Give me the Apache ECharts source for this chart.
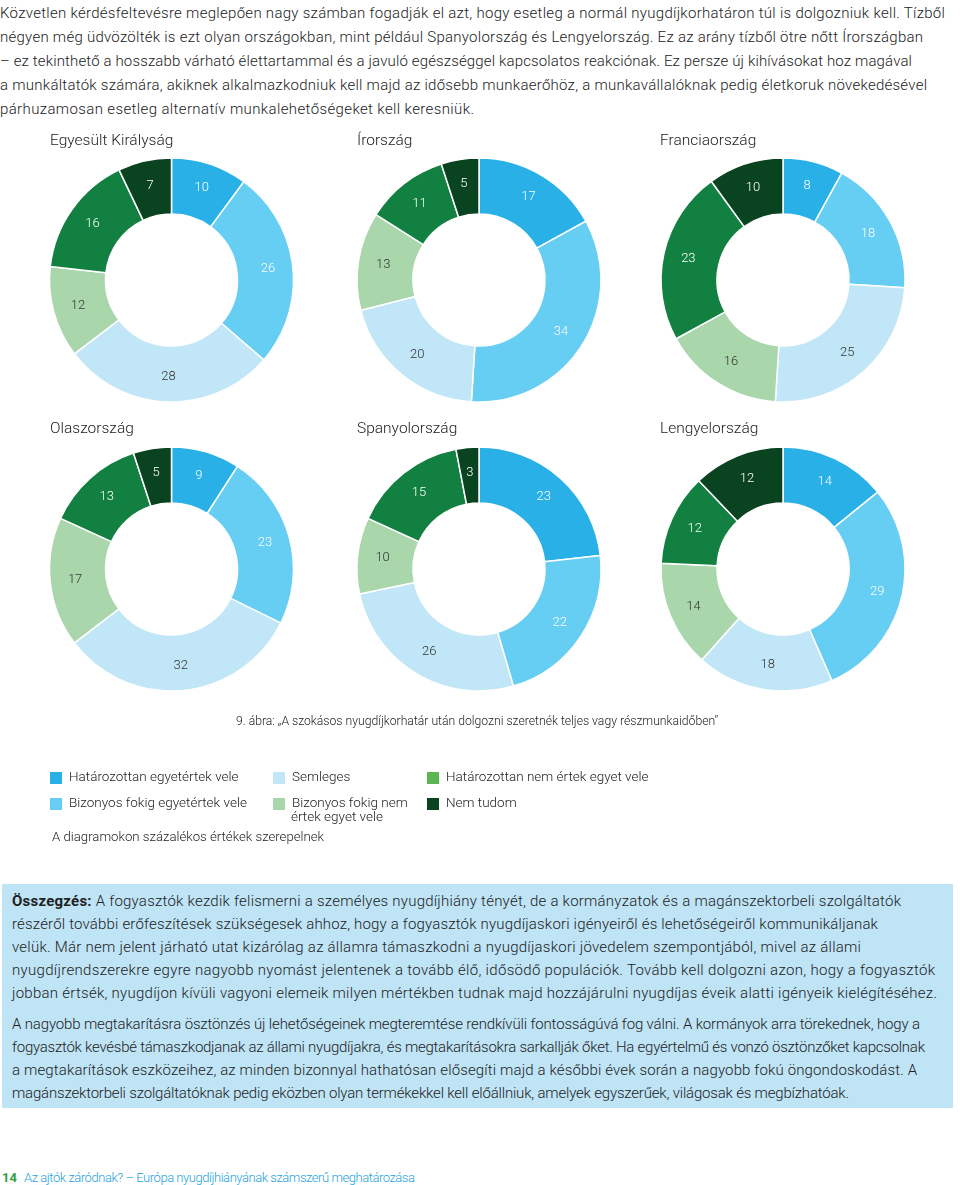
<!DOCTYPE html>
<html lang="hu">
<head>
<meta charset="utf-8">
<script src="https://cdn.jsdelivr.net/npm/echarts@6/dist/echarts.min.js"></script>
<style>
  html,body{margin:0;padding:0;background:#fff;}
  body{width:960px;height:1185px;position:relative;overflow:hidden;font-family:Roboto,"Open Sans",sans-serif;font-weight:300;color:#222;}
  .txt div{white-space:nowrap;}
  #intro{position:absolute;left:0;top:1px;font-size:15px;line-height:24px;}
  #chart{position:absolute;left:0;top:120px;width:960px;height:740px;}
  #summary{position:absolute;left:2px;top:884px;width:951px;height:224px;background:#bfe4f6;}
  #summary .p{position:absolute;left:10px;font-size:15px;line-height:23px;}
  #footer{position:absolute;left:2px;top:1169px;font-size:13px;line-height:18px;white-space:nowrap;color:#1fa3dc;}
  #footer b{color:#2e9e3e;font-weight:700;}
  #footer span{position:absolute;left:22px;top:0;white-space:nowrap;}
</style>
</head>
<body>
<div id="intro" class="txt">
<div data-w="945">Közvetlen kérdésfeltevésre meglepően nagy számban fogadják el azt, hogy esetleg a normál nyugdíjkorhatáron túl is dolgozniuk kell. Tízből</div>
<div data-w="923">négyen még üdvözölték is ezt olyan országokban, mint például Spanyolország és Lengyelország. Ez az arány tízből ötre nőtt Írországban</div>
<div data-w="912">– ez tekinthető a hosszabb várható élettartammal és a javuló egészséggel kapcsolatos reakciónak. Ez persze új kihívásokat hoz magával</div>
<div data-w="927">a munkáltatók számára, akiknek alkalmazkodniuk kell majd az idősebb munkaerőhöz, a munkavállalóknak pedig életkoruk növekedésével</div>
<div data-w="474">párhuzamosan esetleg alternatív munkalehetőségeket kell keresniük.</div>
</div>
<div id="chart"></div>
<div id="summary" class="txt">
<div class="p" style="top:6px">
<div data-w="889"><b style="font-weight:700">Összegzés:</b> A fogyasztók kezdik felismerni a személyes nyugdíjhiány tényét, de a kormányzatok és a magánszektorbeli szolgáltatók</div>
<div data-w="866">részéről további erőfeszítések szükségesek ahhoz, hogy a fogyasztók nyugdíjaskori igényeiről és lehetőségeiről kommunikáljanak</div>
<div data-w="849">velük. Már nem jelent járható utat kizárólag az államra támaszkodni a nyugdíjaskori jövedelem szempontjából, mivel az állami</div>
<div data-w="923">nyugdíjrendszerekre egyre nagyobb nyomást jelentenek a tovább élő, idősödő populációk. Tovább kell dolgozni azon, hogy a fogyasztók</div>
<div data-w="925">jobban értsék, nyugdíjon kívüli vagyoni elemeik milyen mértékben tudnak majd hozzájárulni nyugdíjas éveik alatti igényeik kielégítéséhez.</div>
</div>
<div class="p" style="top:129px">
<div data-w="908">A nagyobb megtakarításra ösztönzés új lehetőségeinek megteremtése rendkívüli fontosságúvá fog válni. A kormányok arra törekednek, hogy a</div>
<div data-w="913">fogyasztók kevésbé támaszkodjanak az állami nyugdíjakra, és megtakarításokra sarkallják őket. Ha egyértelmű és vonzó ösztönzőket kapcsolnak</div>
<div data-w="905">a megtakarítások eszközeihez, az minden bizonnyal hathatósan elősegíti majd a későbbi évek során a nagyobb fokú öngondoskodást. A</div>
<div data-w="837">magánszektorbeli szolgáltatóknak pedig eközben olyan termékekkel kell előállniuk, amelyek egyszerűek, világosak és megbízhatóak.</div>
</div>
</div>
<div id="footer"><b>14</b><span data-w="391">Az ajtók záródnak? – Európa nyugdíjhiányának számszerű meghatározása</span></div>
<script>
// ---- data ----
const categories = [
  'Határozottan egyetértek vele',
  'Bizonyos fokig egyetértek vele',
  'Semleges',
  'Bizonyos fokig nem értek egyet vele',
  'Határozottan nem értek egyet vele',
  'Nem tudom'
];
const countries = ['Egyesült Királyság','Írország','Franciaország','Olaszország','Spanyolország','Lengyelország'];
const ukValues      = [10, 26, 28, 12, 16, 7];
const irelandValues = [17, 34, 20, 13, 11, 5];
const franceValues  = [8, 18, 25, 16, 23, 10];
const italyValues   = [9, 23, 32, 17, 13, 5];
const spainValues   = [23, 22, 26, 10, 15, 3];
const polandValues  = [14, 29, 18, 14, 12, 12];
const captionText = '9. ábra: „A szokásos nyugdíjkorhatár után dolgozni szeretnék teljes vagy részmunkaidőben”';
const noteText = 'A diagramokon százalékos értékek szerepelnek';

// ---- fit text lines to the reference line widths ----
document.querySelectorAll('[data-w]').forEach(el => {
  const target = parseFloat(el.getAttribute('data-w'));
  const r = document.createRange();
  r.selectNodeContents(el);
  const w = r.getBoundingClientRect().width;
  const n = Math.max(1, el.textContent.length - 1);
  el.style.letterSpacing = ((target - w) / n).toFixed(3) + 'px';
});

// ---- styling ----
const sliceColors = ['#29b1e7','#66cdf3','#c1e6f7','#a9d6ab','#128040','#0a4320'];
const labelColors = ['#ffffff','#ffffff','#333333','#333333','#ffffff','#ffffff'];
const legendColors = ['#29b1e7','#66cdf3','#c1e6f7','#a9d6ab','#5ab552','#0a4320'];
const FONT = 'Roboto, "Open Sans", sans-serif';

const allValues = [ukValues, irelandValues, franceValues, italyValues, spainValues, polandValues];
const centers = [[171.5,160],[479,160],[783,160],[171.5,449],[479,449],[783,449]];
const titlePos = [[50,13],[357,13],[660,13],[50,301],[357,301],[660,301]];

const series = allValues.map((vals, i) => ({
  type: 'pie',
  name: countries[i],
  center: centers[i],
  radius: [66, 122],
  startAngle: 90,
  clockwise: true,
  silent: true,
  animation: false,
  itemStyle: { borderColor: '#ffffff', borderWidth: 1.5 },
  label: { show: true, position: 'inside', formatter: '{c}', fontSize: 13, fontFamily: FONT, fontWeight: 300 },
  labelLine: { show: false },
  data: vals.map((v, j) => ({
    name: categories[j],
    value: v,
    itemStyle: { color: sliceColors[j] },
    label: { color: labelColors[j] }
  }))
}));

const titles = countries.map((c, i) => ({
  text: c, left: titlePos[i][0], top: titlePos[i][1], padding: 0,
  textStyle: { fontSize: 15.5, fontWeight: 300, color: '#222', fontFamily: FONT }
}));

const legendCols = [[0,1],[2,3],[4,5]];
const legendLeft = [48, 271, 425];
const legends = legendCols.map((col, k) => ({
  orient: 'vertical',
  left: legendLeft[k],
  top: 650,
  itemWidth: 14,
  itemHeight: 14,
  itemGap: 10,
  padding: 0,
  selectedMode: false,
  icon: 'rect',
  textStyle: { fontSize: 13.5, color: '#222', fontFamily: FONT, fontWeight: 300, padding: [0,0,0,1] },
  formatter: name => name === categories[3] ? 'Bizonyos fokig nem' : name,
  data: col.map(j => ({ name: categories[j], itemStyle: { color: legendColors[j] } }))
}));

const chart = echarts.init(document.getElementById('chart'), null, { renderer: 'canvas' });
chart.setOption({
  animation: false,
  title: titles,
  legend: legends,
  series: series,
  graphic: [
    { type: 'text', left: 236, top: 596, style: { text: captionText, fontSize: 12.2, fontFamily: FONT, fontWeight: 300, fill: '#222' } },
    { type: 'text', left: 291, top: 691, style: { text: 'értek egyet vele', fontSize: 13.5, fontFamily: FONT, fontWeight: 300, fill: '#222' } },
    { type: 'text', left: 52, top: 711, style: { text: noteText, fontSize: 13.2, fontFamily: FONT, fontWeight: 300, fill: '#222' } }
  ]
});
</script>
</body>
</html>
